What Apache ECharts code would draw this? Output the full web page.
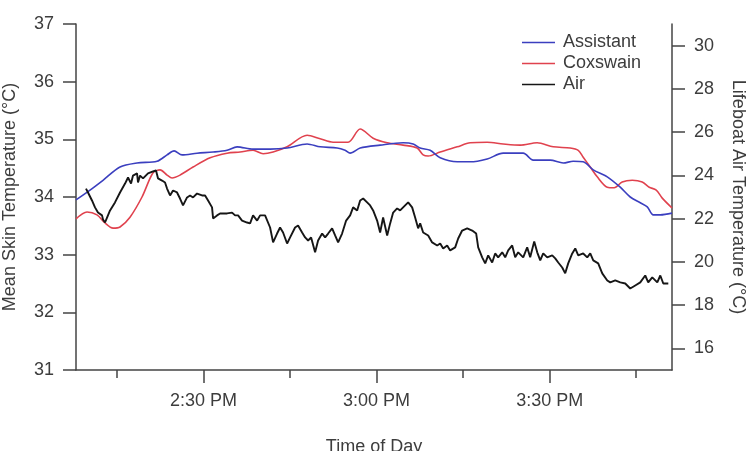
<!DOCTYPE html>
<html>
<head>
<meta charset="utf-8">
<script src="https://cdn.jsdelivr.net/npm/echarts@6/dist/echarts.min.js"></script>
<style>
html,body{margin:0;padding:0;background:#fff;}
#chart{width:749px;height:451px;}
</style>
</head>
<body>
<div id="chart"></div>
<script>
// Time in minutes after 2:00 PM
const xMin = 7.9, xMax = 111.2;
const timeTicks = [30, 60, 90];
const timeTickLabels = ['2:30 PM', '3:00 PM', '3:30 PM'];
const minorTimeTicks = [15, 45, 75, 105];
const airTicks = [16, 18, 20, 22, 24, 26, 28, 30];

// Assistant mean skin temperature [minute, °C]
const assistant = [
[7.9,33.95],[10.33,34.12],[12.58,34.29],[15.53,34.52],[18.48,34.59],[21.95,34.62],[23.68,34.73],[24.9,34.80],
[26.28,34.73],[28.88,34.76],[31.66,34.78],[34.08,34.81],[35.82,34.87],[38.59,34.83],[41.54,34.83],[44.49,34.85],
[47.96,34.92],[50.21,34.87],[53.16,34.85],[54.54,34.81],[55.41,34.76],[57.15,34.85],[60.61,34.90],[64.6,34.94],
[66.34,34.92],[67.55,34.85],[69.28,34.81],[71.02,34.68],[73.97,34.61],[76.22,34.61],[79.17,34.66],[81.94,34.76],
[85.41,34.76],[87.14,34.64],[90.09,34.64],[92.35,34.59],[94.08,34.62],[95.81,34.61],[97.55,34.47],[99.98,34.35],
[102.23,34.17],[103.96,34.00],[105.7,33.90],[106.91,33.83],[107.95,33.69],[109.17,33.69],[111.2,33.72]
];

// Coxswain mean skin temperature [minute, °C]
const coxswain = [
[7.9,33.62],[9.81,33.74],[11.54,33.69],[12.93,33.55],[14.32,33.46],[15.53,33.48],[17.26,33.65],[19.34,34.00],
[21.25,34.42],[22.47,34.47],[23.68,34.38],[24.55,34.33],[25.93,34.38],[28.19,34.52],[31.14,34.68],[34.08,34.76],
[36.34,34.78],[38.59,34.81],[40.33,34.75],[42.06,34.78],[44.49,34.87],[47.96,35.07],[50.21,35.01],[52.46,34.95],
[55.06,34.95],[57.15,35.18],[59.4,35.02],[61.83,34.94],[64.6,34.90],[67.03,34.85],[68.07,34.73],[68.94,34.71],
[71.02,34.78],[73.97,34.87],[76.22,34.94],[79.17,34.95],[81.94,34.92],[84.89,34.90],[87.83,34.94],[90.61,34.87],
[93.56,34.85],[94.95,34.81],[95.81,34.69],[97.03,34.52],[98.24,34.35],[99.98,34.17],[101.19,34.16],[102.57,34.26],
[104.31,34.29],[106.04,34.26],[107.25,34.17],[108.47,34.12],[109.51,33.98],[111.2,33.81]
];

// Lifeboat air temperature [minute, °C]
const air = [
[9.63,23.39],[9.98,23.21],[10.67,22.84],[11.19,22.52],[11.71,22.28],[12.41,22.15],[12.58,21.96],[12.93,21.82],
[13.28,22.05],[13.8,22.38],[14.66,22.75],[15.53,23.21],[16.4,23.62],[16.92,23.90],[17.44,23.62],[17.78,23.99],
[18.48,24.09],[18.65,23.67],[19.0,23.99],[19.52,23.86],[20.38,24.09],[21.25,24.18],[21.77,24.23],[22.12,23.86],
[22.81,23.76],[23.33,23.67],[23.68,23.39],[24.2,23.07],[24.72,23.30],[25.41,23.21],[25.93,22.93],[26.45,22.61],
[27.15,22.98],[27.67,23.07],[28.19,22.98],[28.88,23.16],[29.75,23.07],[30.27,23.07],[30.79,22.84],[31.48,22.52],
[31.66,22.01],[32.35,22.15],[32.87,22.24],[34.08,22.24],[34.95,22.28],[35.47,22.15],[35.99,22.15],[36.68,21.91],
[37.55,21.82],[38.07,21.78],[38.59,22.15],[39.29,21.91],[39.81,22.15],[40.67,22.15],[41.54,21.59],[42.06,20.90],
[42.75,21.31],[43.27,21.59],[43.79,21.36],[44.49,20.85],[45.01,21.13],[45.87,21.59],[46.39,21.68],[47.09,21.36],
[47.61,21.13],[48.13,20.99],[48.65,21.13],[49.34,20.44],[49.86,20.99],[50.56,21.31],[51.08,21.13],[51.6,21.31],
[52.29,21.55],[52.81,21.22],[53.33,20.90],[54.02,21.31],[54.72,21.91],[55.41,22.15],[55.93,22.52],[56.63,22.38],
[57.15,22.84],[57.67,22.93],[58.36,22.75],[58.88,22.61],[59.4,22.38],[60.09,21.91],[60.61,21.36],[61.13,22.05],
[61.83,21.22],[62.35,21.78],[62.87,22.28],[63.56,22.47],[64.08,22.38],[64.6,22.52],[65.47,22.75],[66.16,22.52],
[66.68,22.05],[67.2,21.55],[67.55,21.78],[68.07,21.36],[68.94,21.22],[69.63,20.90],[70.5,20.76],[71.02,20.85],
[71.54,20.62],[72.23,20.76],[72.75,20.53],[73.62,20.67],[74.14,21.08],[74.83,21.45],[75.7,21.55],[76.57,21.45],
[77.26,21.31],[77.61,20.67],[78.3,20.21],[78.82,19.93],[79.34,20.30],[80.03,19.97],[80.55,20.39],[81.07,20.21],
[81.77,20.44],[82.29,20.21],[82.81,20.53],[83.5,20.76],[84.02,20.21],[84.54,20.44],[85.41,20.21],[86.1,20.67],
[86.62,20.21],[87.32,20.94],[87.84,20.44],[88.36,20.07],[88.88,20.39],[89.57,20.21],[90.44,20.30],[90.96,20.16],
[91.48,19.97],[92.17,19.74],[92.69,19.47],[93.21,19.93],[93.91,20.39],[94.43,20.62],[94.95,20.30],[95.81,20.39],
[96.51,20.21],[97.03,20.39],[97.55,20.07],[98.41,19.93],[99.11,19.47],[99.98,19.14],[100.5,19.05],[101.36,19.14],
[102.23,19.05],[103.1,19.00],[103.96,18.77],[104.83,18.91],[105.7,19.05],[106.56,19.37],[107.08,19.05],[107.78,19.28],
[108.65,19.05],[109.17,19.37],[109.69,19.00],[110.56,19.00]
];

const FONT = '"Liberation Sans", Arial, sans-serif';
const TXT = '#3d3d3d';
const AX = '#444';
const LINE_ICON = 'path://M0,0 L100,0 L100,5 L0,5 Z';

function timeLabel(v) {
  const i = timeTicks.indexOf(Math.round(v));
  return i >= 0 ? timeTickLabels[i] : '';
}

const chart = echarts.init(document.getElementById('chart'), null, {renderer: 'canvas'});
chart.setOption({
  animation: false,
  backgroundColor: '#fff',
  textStyle: {fontFamily: FONT},
  grid: {left: 76, right: 77, top: 24, bottom: 81, containLabel: false, outerBoundsMode: 'none'},
  legend: {
    data: [
      {name: 'Assistant', icon: LINE_ICON},
      {name: 'Coxswain', icon: LINE_ICON},
      {name: 'Air', icon: LINE_ICON}
    ],
    orient: 'vertical',
    left: 522, top: 32, padding: 0,
    itemWidth: 33, itemHeight: 14, itemGap: 0,
    symbolKeepAspect: true,
    textStyle: {fontSize: 18, lineHeight: 21, color: TXT, fontFamily: FONT, padding: [0,0,0,3]}
  },
  xAxis: [
    {
      type: 'value', min: xMin, max: xMax,
      name: 'Time of Day', nameLocation: 'middle', nameGap: 68,
      nameTextStyle: {fontSize: 18, color: TXT, fontFamily: FONT},
      axisLine: {show: true, onZero: false, lineStyle: {color: AX, width: 1.5}},
      axisTick: {show: true, inside: false, length: 13, customValues: timeTicks, lineStyle: {color: AX, width: 1.5}},
      axisLabel: {show: true, customValues: timeTicks, formatter: timeLabel, fontSize: 18, color: TXT, margin: 22, fontFamily: FONT},
      splitLine: {show: false}
    },
    {
      type: 'value', min: xMin, max: xMax, position: 'bottom',
      axisLine: {show: false, onZero: false},
      axisTick: {show: true, inside: false, length: 8, customValues: minorTimeTicks, lineStyle: {color: AX, width: 1.5}},
      axisLabel: {show: false},
      splitLine: {show: false}
    }
  ],
  yAxis: [
    {
      type: 'value', min: 31, max: 37, interval: 1,
      name: 'Mean Skin Temperature (°C)', nameLocation: 'middle', nameGap: 57, nameRotate: 90,
      nameTextStyle: {fontSize: 18, color: TXT, fontFamily: FONT},
      axisLine: {show: true, onZero: false, lineStyle: {color: AX, width: 1.5}},
      axisTick: {show: true, inside: false, length: 13, lineStyle: {color: AX, width: 1.5}},
      axisLabel: {fontSize: 18, color: TXT, margin: 22, fontFamily: FONT},
      splitLine: {show: false}
    },
    {
      type: 'value', min: 15, max: 31, position: 'right',
      name: 'Lifeboat Air Temperature (°C)', nameLocation: 'middle', nameGap: 57, nameRotate: -90,
      nameTextStyle: {fontSize: 18, color: TXT, fontFamily: FONT},
      axisLine: {show: true, onZero: false, lineStyle: {color: AX, width: 1.5}},
      axisTick: {show: true, inside: false, length: 13, customValues: airTicks, lineStyle: {color: AX, width: 1.5}},
      axisLabel: {customValues: airTicks, fontSize: 18, color: TXT, margin: 22, fontFamily: FONT},
      splitLine: {show: false}
    }
  ],
  series: [
    {name: 'Assistant', type: 'line', data: assistant, xAxisIndex: 0, yAxisIndex: 0, symbol: 'none',
     lineStyle: {color: '#3b3fbf', width: 1.6}, itemStyle: {color: '#3b3fbf'}, smooth: 0.3, z: 3},
    {name: 'Coxswain', type: 'line', data: coxswain, xAxisIndex: 0, yAxisIndex: 0, symbol: 'none',
     lineStyle: {color: '#e0424e', width: 1.6}, itemStyle: {color: '#e0424e'}, smooth: 0.3, z: 2},
    {name: 'Air', type: 'line', data: air, xAxisIndex: 0, yAxisIndex: 1, symbol: 'none',
     lineStyle: {color: '#161616', width: 1.9}, itemStyle: {color: '#161616'}, z: 4}
  ]
});
</script>
</body>
</html>
